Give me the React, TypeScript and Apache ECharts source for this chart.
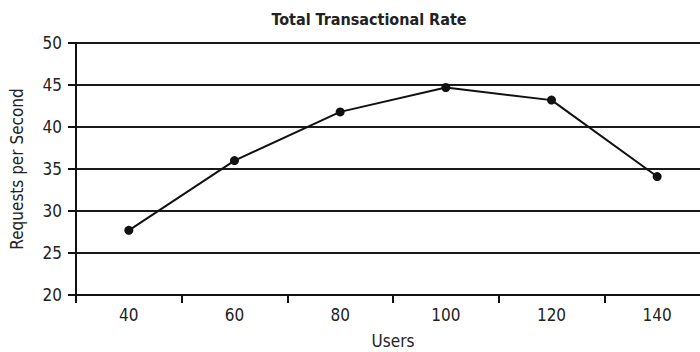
import React, { useEffect, useRef } from "react";
import * as echarts from "echarts";

const users = ["40", "60", "80", "100", "120", "140"];
const requestsPerSecond = [27.7, 36.0, 41.8, 44.7, 43.2, 34.1];
const FONT = "'DejaVu Sans Condensed', 'Liberation Sans Narrow', sans-serif";

export default function App() {
  const ref = useRef<HTMLDivElement>(null);
  useEffect(() => {
    if (!ref.current) return;
    const chart = echarts.init(ref.current, null, { renderer: "svg" });
    chart.setOption({
      animation: false,
      backgroundColor: "#fff",
      title: {
        text: "Total Transactional Rate",
        left: 364,
        top: 6,
        textAlign: "center",
        textStyle: { fontFamily: FONT, fontSize: 16, fontWeight: "bold", color: "#222" },
      },
      grid: { left: 76, top: 43, width: 634, height: 252, outerBoundsMode: "none", containLabel: false },
      xAxis: {
        type: "category",
        data: users,
        boundaryGap: true,
        name: "Users",
        nameLocation: "middle",
        nameGap: 37,
        nameTextStyle: { fontFamily: FONT, fontSize: 17, color: "#222" },
        axisLine: { lineStyle: { color: "#111", width: 2 } },
        axisTick: { show: true, length: 8, inside: false, lineStyle: { color: "#111", width: 2 } },
        axisLabel: { fontFamily: FONT, fontSize: 17, color: "#222", margin: 11 },
        splitLine: { show: false },
      },
      yAxis: {
        type: "value",
        min: 20,
        max: 50,
        interval: 5,
        name: "Requests per Second",
        nameLocation: "middle",
        nameGap: 51,
        nameRotate: 90,
        nameTextStyle: { fontFamily: FONT, fontSize: 17, color: "#222" },
        axisLine: { show: true, lineStyle: { color: "#111", width: 2 } },
        axisTick: { show: true, length: 8, lineStyle: { color: "#111", width: 2 } },
        axisLabel: { fontFamily: FONT, fontSize: 17, color: "#222", margin: 14 },
        splitLine: { show: true, lineStyle: { color: "#1a1a1a", width: 2 } },
      },
      series: [
        {
          type: "line",
          data: requestsPerSecond,
          symbol: "circle",
          symbolSize: 9,
          lineStyle: { color: "#111", width: 2 },
          itemStyle: { color: "#111" },
        },
      ],
    });
    return () => chart.dispose();
  }, []);
  return <div ref={ref} style={{ width: 700, height: 352, position: "absolute", left: 0, top: 0 }} />;
}
